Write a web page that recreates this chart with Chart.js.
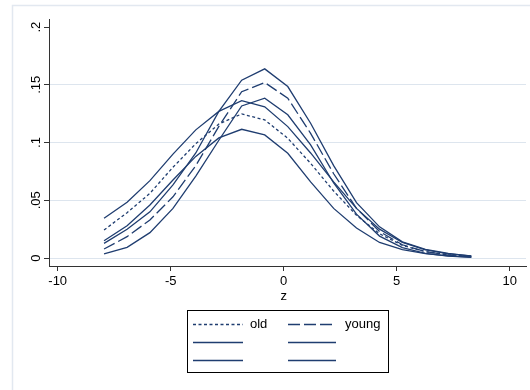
<!DOCTYPE html>
<html><head><meta charset="utf-8">
<script src="https://cdn.jsdelivr.net/npm/chart.js@4/dist/chart.umd.min.js"></script>
<style>html,body{margin:0;padding:0;background:#fff;}#wrap{width:530px;height:390px;}</style>
</head><body><div id="wrap"><canvas id="c" width="530" height="390"></canvas></div>
<script>
// ---- data ----
const zValues = [-7.95,-6.93,-5.92,-4.90,-3.89,-2.87,-1.86,-0.84,0.18,1.19,2.21,3.22,4.24,5.25,6.27,7.28,8.30];
const oldDensity     = [0.0243,0.0393,0.056,0.0786,0.099,0.116,0.1248,0.1196,0.1037,0.082,0.058,0.037,0.021,0.011,0.0055,0.0028,0.0013];
const youngDensity   = [0.0078,0.0185,0.033,0.053,0.080,0.114,0.144,0.152,0.1384,0.108,0.073,0.043,0.023,0.0115,0.0055,0.0026,0.0011];
const oldUpper       = [0.0344,0.0483,0.067,0.090,0.111,0.127,0.1363,0.131,0.1138,0.091,0.066,0.043,0.025,0.0135,0.007,0.0036,0.0018];
const oldLower       = [0.015,0.028,0.046,0.0676,0.088,0.104,0.1115,0.1066,0.0907,0.066,0.043,0.026,0.0135,0.0072,0.0038,0.0019,0.0008];
const youngUpper     = [0.0127,0.0249,0.040,0.0633,0.091,0.127,0.154,0.1638,0.1485,0.1167,0.080,0.048,0.027,0.014,0.0075,0.004,0.0017];
const youngLower     = [0.0035,0.0093,0.022,0.043,0.071,0.102,0.1317,0.1384,0.124,0.098,0.065,0.038,0.019,0.009,0.004,0.0016,0.0006];
const seriesLabels   = ['old','young','','','',''];
const xTickValues    = [-10,-5,0,5,10];
const yTickValues    = [0,0.05,0.1,0.15,0.2];
const yTickLabels    = ['0','.05','.1','.15','.2'];
const xAxisTitle     = 'z';

const LINE = '#1f3d70';
const FONT = '"Liberation Sans", Arial, Helvetica, sans-serif';
const pts = arr => arr.map((v,i)=>({x:zValues[i], y:v}));
const series = [oldDensity, youngDensity, oldUpper, youngUpper, oldLower, youngLower];
const dashes = [[3,2.5],[12,4],[],[],[],[]];

const datasets = series.map((s,i)=>({
  label: seriesLabels[i], data: pts(s), borderColor: LINE, borderWidth: 1.3,
  borderDash: dashes[i], pointRadius: 0, tension: 0, fill: false
}));

const decor = {
  id: 'decor',
  beforeDraw(chart){
    const c = chart.ctx; c.save();
    c.fillStyle = '#fff'; c.fillRect(0,0,chart.width,chart.height);
    c.strokeStyle = '#e2e8f0'; c.lineWidth = 1.5;
    c.strokeRect(12.5,5.5,700,700);
    c.restore();
  },
  afterDraw(chart){
    const c = chart.ctx, ys = chart.scales.y, xs = chart.scales.x;
    c.save();
    c.fillStyle = '#000'; c.font = '13px ' + FONT;
    // rotated y tick labels
    yTickValues.forEach((v,i)=>{
      const py = ys.getPixelForValue(v);
      c.save(); c.translate(40, py); c.rotate(-Math.PI/2);
      c.textAlign = 'center'; c.textBaseline = 'alphabetic';
      c.fillText(yTickLabels[i], 0, 0); c.restore();
    });
    // x axis title
    c.textAlign = 'center'; c.textBaseline = 'alphabetic';
    c.fillText(xAxisTitle, xs.getPixelForValue(0), 300);
    // legend box
    const bx = 187, by = 310, bw = 201, bh = 62;
    c.strokeStyle = '#000'; c.lineWidth = 1;
    c.strokeRect(bx+0.5, by+0.5, bw, bh);
    const cols = [{x0:193,x1:243,tx:250},{x0:288,x1:336,tx:345}];
    const rows = [324, 342, 360];
    chart.data.datasets.forEach((ds,i)=>{
      const col = cols[i%2], row = rows[Math.floor(i/2)];
      c.save();
      c.strokeStyle = ds.borderColor; c.lineWidth = ds.borderWidth;
      c.setLineDash(ds.borderDash || []);
      c.beginPath(); c.moveTo(col.x0, row+0.5); c.lineTo(col.x1, row+0.5); c.stroke();
      c.restore();
      if (ds.label){
        c.textAlign = 'left'; c.textBaseline = 'middle'; c.fillStyle = '#000';
        c.fillText(ds.label, col.tx, row);
      }
    });
    c.restore();
  }
};

new Chart(document.getElementById('c'), {
  type: 'line',
  data: { datasets },
  plugins: [decor],
  options: {
    responsive: false, animation: false, devicePixelRatio: 1,
    layout: { padding: { left: 0, right: 4, top: 19, bottom: 0 } },
    plugins: { legend: { display: false }, tooltip: { enabled: false } },
    scales: {
      x: {
        type: 'linear', min: -10.385, max: 10.72,
        afterBuildTicks: s => { s.ticks = xTickValues.map(v=>({value:v})); },
        afterFit: s => { s.height = 124; },
        grid: { drawOnChartArea: false, drawTicks: true, tickLength: 5, tickColor: '#333' },
        border: { color: '#333', width: 1 },
        ticks: { color: '#000', font: { family: FONT, size: 13 }, padding: 3, maxRotation: 0, autoSkip: false,
                 callback: v => String(v) }
      },
      y: {
        type: 'linear', min: -0.0069, max: 0.207,
        afterBuildTicks: s => { s.ticks = yTickValues.map(v=>({value:v})); },
        afterFit: s => { s.width = 49; },
        grid: { color: ctx => (ctx.tick && ctx.tick.value > 0.19) ? 'rgba(0,0,0,0)' : '#dde5ee',
                lineWidth: 1, drawTicks: true, tickLength: 5, tickColor: '#333' },
        border: { color: '#333', width: 1 },
        ticks: { color: 'rgba(0,0,0,0)', font: { family: FONT, size: 13 }, callback: () => '' }
      }
    }
  }
});
</script></body></html>
